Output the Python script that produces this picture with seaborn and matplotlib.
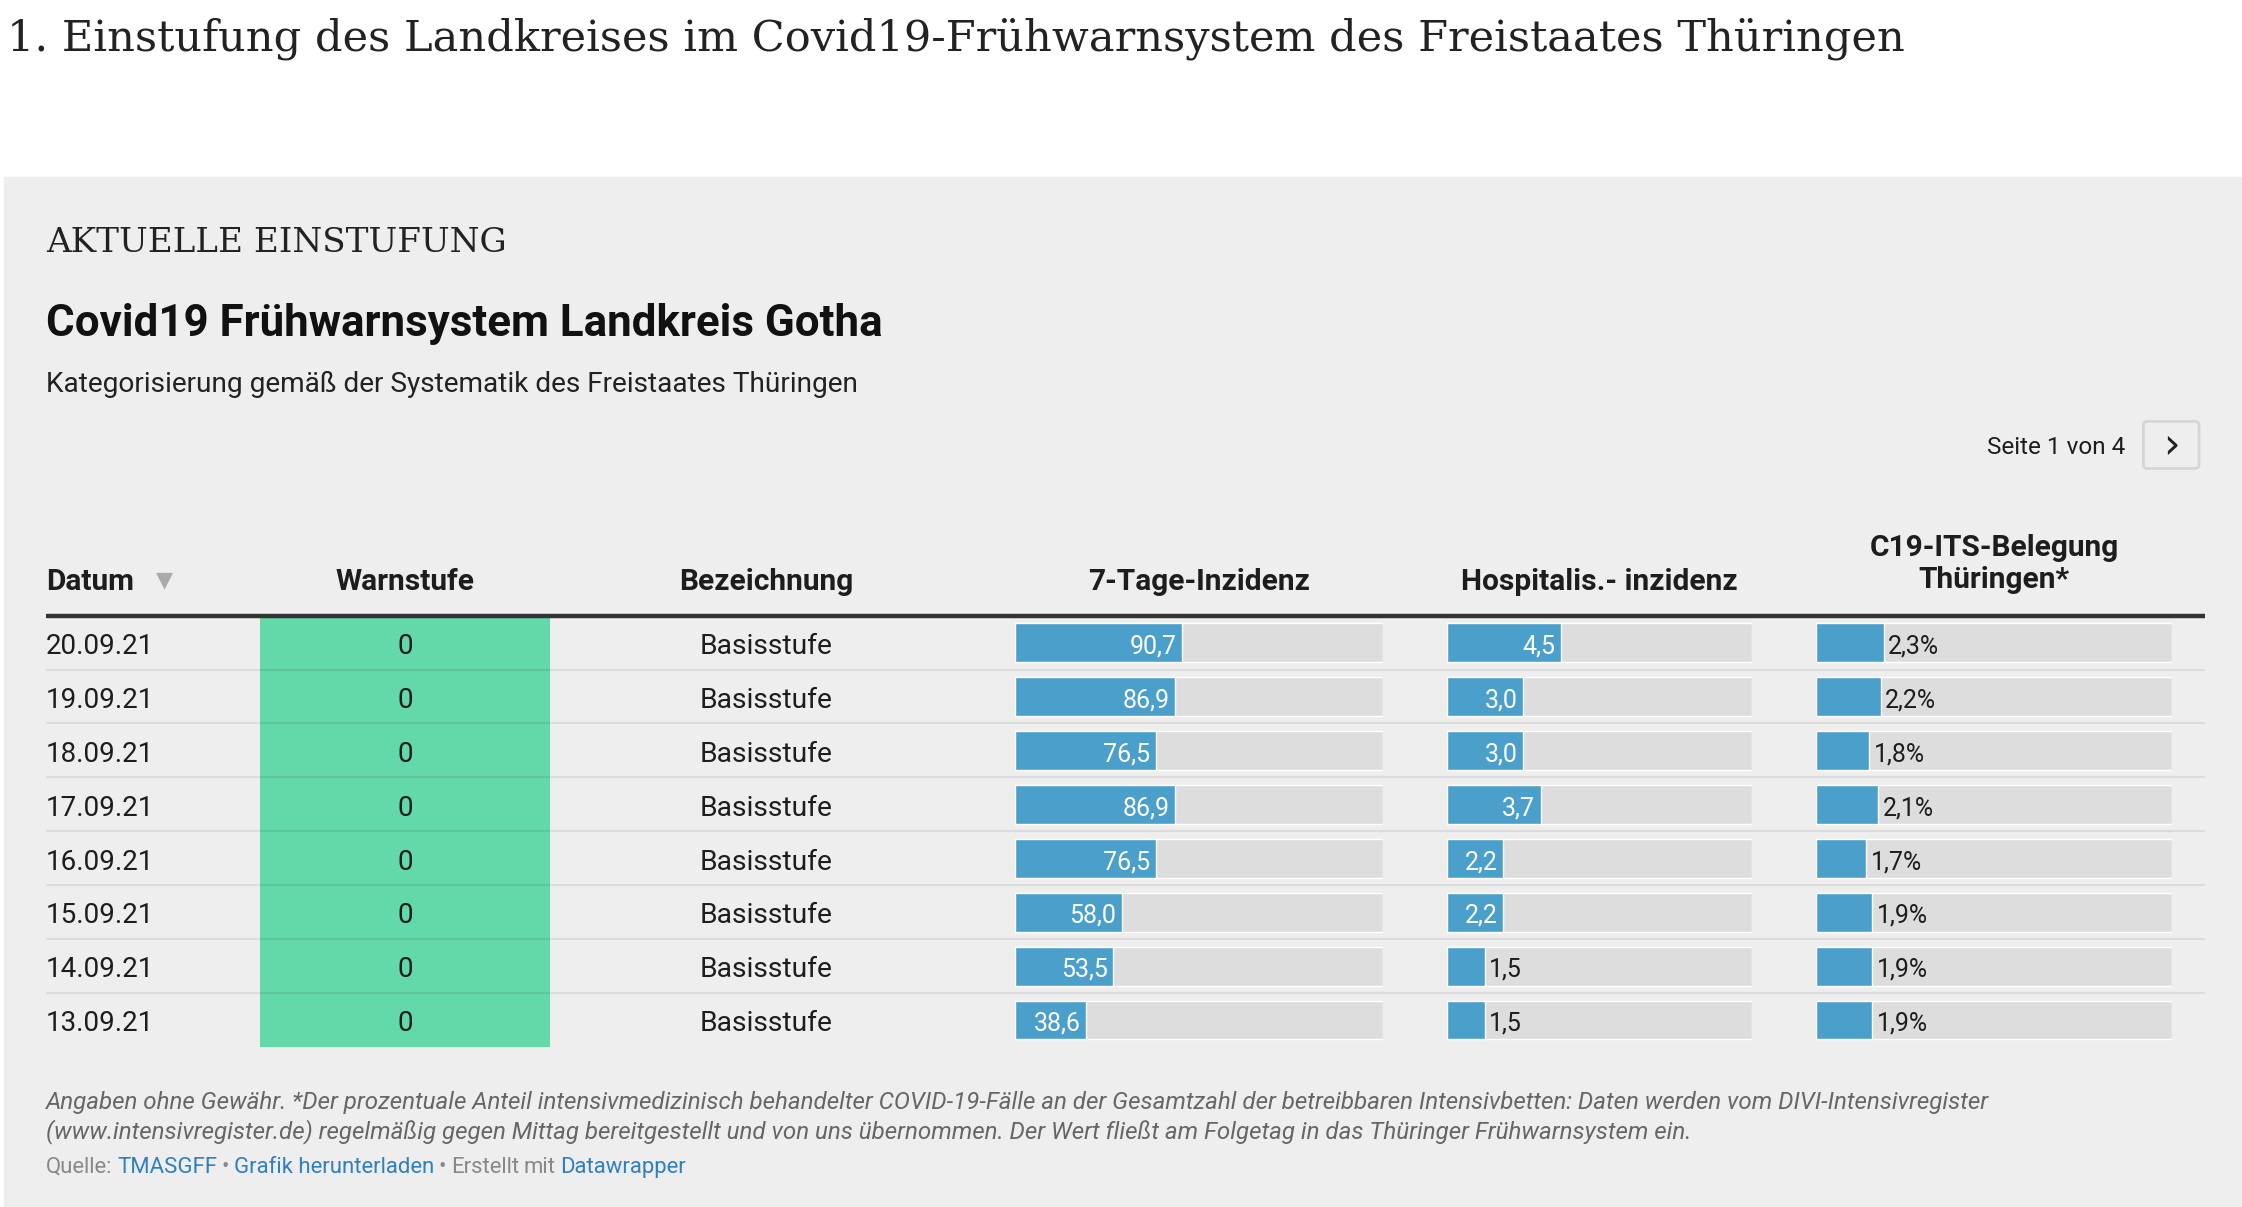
import matplotlib
matplotlib.use("Agg")
import matplotlib.pyplot as plt
from matplotlib.colors import ListedColormap
from matplotlib.patches import Rectangle, FancyBboxPatch
import seaborn as sns
import pandas as pd

# data (page 1 of 4)
dates = ["20.09.21", "19.09.21", "18.09.21", "17.09.21",
         "16.09.21", "15.09.21", "14.09.21", "13.09.21"]
warnstufe = [0, 0, 0, 0, 0, 0, 0, 0]
bezeichnung = ["Basisstufe"] * 8
inzidenz_7t = [90.7, 86.9, 76.5, 86.9, 76.5, 58.0, 53.5, 38.6]
hosp_inzidenz = [4.5, 3.0, 3.0, 3.7, 2.2, 2.2, 1.5, 1.5]
its_belegung = [2.3, 2.2, 1.8, 2.1, 1.7, 1.9, 1.9, 1.9]

headers = ["Datum", "Warnstufe", "Bezeichnung", "7-Tage-Inzidenz",
           "Hospitalis.- inzidenz", "C19-ITS-Belegung\nThüringen*"]

sns.set_style("white")
plt.rcParams["font.family"] = ["Roboto", "DejaVu Sans"]

BG = "#eeeeee"
BLUE = "#4b9fcb"
TRACK = "#dddddd"
DARK = "#1d1d1d"
warn_colors = ["#63d8a8", "#f5d04a", "#e8573f"]

# layout works in a 1568 x 845 "screen" grid, scaled to the 2242 x 1207 output
W, H = 1568, 845
fig = plt.figure(figsize=(22.42, 12.07), dpi=100)


def box(x0, y0, x1, y1):
    return [x0 / W, 1 - y1 / H, (x1 - x0) / W, (y1 - y0) / H]


bg = fig.add_axes([0, 0, 1, 1])
bg.set_xlim(0, W)
bg.set_ylim(H, 0)
bg.set_axis_off()
bg.add_patch(Rectangle((3, 124), W - 3, H - 124, color=BG, zorder=0))

fig.canvas.draw()
rend = fig.canvas.get_renderer()
px2u = W / fig.get_size_inches()[0] / fig.dpi


def fit(t, width):
    w = t.get_window_extent(renderer=rend).width * px2u
    t.set_fontsize(t.get_fontsize() * width / w)


heading = bg.text(5, 27, "1. Einstufung des Landkreises im Covid19-Frühwarnsystem des Freistaates Thüringen",
                  family=["DejaVu Serif"], size=34, color="#222222", va="center", ha="left")
fit(heading, 1332)

kicker = bg.text(32, 170, "AKTUELLE EINSTUFUNG", family=["DejaVu Serif"], size=23,
                 color="#222222", va="center", ha="left")
fit(kicker, 322)

title = bg.text(32, 226.5, "Covid19 Frühwarnsystem Landkreis Gotha", size=30,
                weight="bold", color="#111111", va="center", ha="left")
fit(title, 584)

sub = bg.text(32, 269, "Kategorisierung gemäß der Systematik des Freistaates Thüringen",
              size=20, color="#222222", va="center", ha="left")
fit(sub, 567)

# pager
bg.text(1486, 313, "Seite 1 von 4", size=17.5, color=DARK, va="center", ha="right")
bg.add_patch(FancyBboxPatch((1499, 295), 39, 33, boxstyle="round,pad=0,rounding_size=3",
                            facecolor=BG, edgecolor="#d6d6d6", lw=2))
bg.text(1518.5, 312, "›", size=30, color="#222222", va="center", ha="center",
        family=["DejaVu Sans"])

# column headers
hdr_kw = dict(size=21.5, weight="bold", color=DARK, va="center")
bg.text(32, 407.5, headers[0], ha="left", **hdr_kw)
bg.text(115, 406, "▼", ha="center", va="center", size=16, color="#aaaaaa", family=["DejaVu Sans"])
bg.text(283.5, 407.5, headers[1], ha="center", **hdr_kw)
bg.text(536, 407.5, headers[2], ha="center", **hdr_kw)
bg.text(838.5, 407.5, headers[3], ha="center", **hdr_kw)
bg.text(1118.5, 407.5, headers[4], ha="center", **hdr_kw)
bg.text(1394.5, 395, headers[5], ha="center", linespacing=1.2, **hdr_kw)

# table region
TOP, BOT = 431, 733
n = len(dates)
DY = 0.07  # optical nudge for vertically centred text, in rows

# warnstufe cells
hax = fig.add_axes(box(182, TOP, 385, BOT))
warn_df = pd.DataFrame({"Warnstufe": warnstufe}, index=dates)
sns.heatmap(warn_df, cmap=ListedColormap(warn_colors), vmin=-0.5, vmax=2.5, cbar=False,
            annot=True, fmt="d", annot_kws={"size": 20, "color": DARK},
            xticklabels=False, yticklabels=False, ax=hax)
hax.set_axis_off()
for t in hax.texts:
    x0, y0 = t.get_position()
    t.set_position((x0, y0 + DY))


def bar_column(x0, x1, values, vmax, label_fmt, min_inside):
    ax = fig.add_axes(box(x0, TOP, x1, BOT))
    df = pd.DataFrame({"Datum": dates, "Wert": values, "Max": [vmax] * n})
    sns.barplot(data=df, x="Max", y="Datum", orient="h", color=TRACK, saturation=1,
                width=0.72, ax=ax)
    sns.barplot(data=df, x="Wert", y="Datum", orient="h", color=BLUE, saturation=1,
                width=0.72, ax=ax)
    ax.set_xlim(0, vmax)
    ax.set_ylim(n - 0.5, -0.5)
    ax.set_axis_off()
    for i, v in enumerate(values):
        lab = label_fmt(v)
        if v >= min_inside:
            ax.annotate(lab, (v, i + DY), xytext=(-4, 0), textcoords="offset points",
                        ha="right", va="center", size=18, color="white")
        else:
            ax.annotate(lab, (v, i + DY), xytext=(3, 0), textcoords="offset points",
                        ha="left", va="center", size=18, color=DARK)
    return ax


def de(v):
    return f"{v:.1f}".replace(".", ",")


bar_column(710, 967, inzidenz_7t, 200, de, 0)
bar_column(1012, 1225, hosp_inzidenz, 12, de, 2.0)
bar_column(1270, 1519, its_belegung, 12, lambda v: de(v) + "%", 99)

# text cells and rules drawn on top
tab = fig.add_axes(box(0, TOP, W, BOT))
tab.set_xlim(0, W)
tab.set_ylim(n - 0.5, -0.5)
tab.set_axis_off()
for i, (d, b) in enumerate(zip(dates, bezeichnung)):
    tab.text(32, i + DY, d, ha="left", va="center", size=20, color=DARK)
    tab.text(536, i + DY, b, ha="center", va="center", size=20.3, color=DARK)
for i in range(n - 1):
    tab.plot([32, 1542], [i + 0.5, i + 0.5], color="black", alpha=0.075, lw=1.6,
             solid_capstyle="butt")
tab.plot([32, 1542], [-0.5, -0.5], color="#333333", lw=3.2, solid_capstyle="butt",
         clip_on=False)

# notes and source
note = ("Angaben ohne Gewähr. *Der prozentuale Anteil intensivmedizinisch behandelter COVID-19-Fälle "
        "an der Gesamtzahl der betreibbaren Intensivbetten: Daten werden vom DIVI-Intensivregister")
note2 = ("(www.intensivregister.de) regelmäßig gegen Mittag bereitgestellt und von uns übernommen. "
         "Der Wert fließt am Folgetag in das Thüringer Frühwarnsystem ein.")
n1 = bg.text(32, 772, note, size=16, style="italic", color="#666666", va="center", ha="left")
fit(n1, 1362)
bg.text(32, 792, note2, size=n1.get_fontsize(), style="italic", color="#666666",
        va="center", ha="left")

pieces = [("Quelle:", "#888888"), ("TMASGFF", "#2f7fc1"), ("•", "#888888"),
          ("Grafik herunterladen", "#2f7fc1"), ("•", "#888888"), ("Erstellt", "#888888"),
          ("mit", "#888888"), ("Datawrapper", "#2f7fc1")]
src_size = n1.get_fontsize() * 0.92
x = 32
for txt, col in pieces:
    t = bg.text(x, 817, txt, size=src_size, color=col, va="center", ha="left")
    x += t.get_window_extent(renderer=rend).width * px2u + 3.3

fig.savefig("out.png", dpi=100, facecolor="white")
